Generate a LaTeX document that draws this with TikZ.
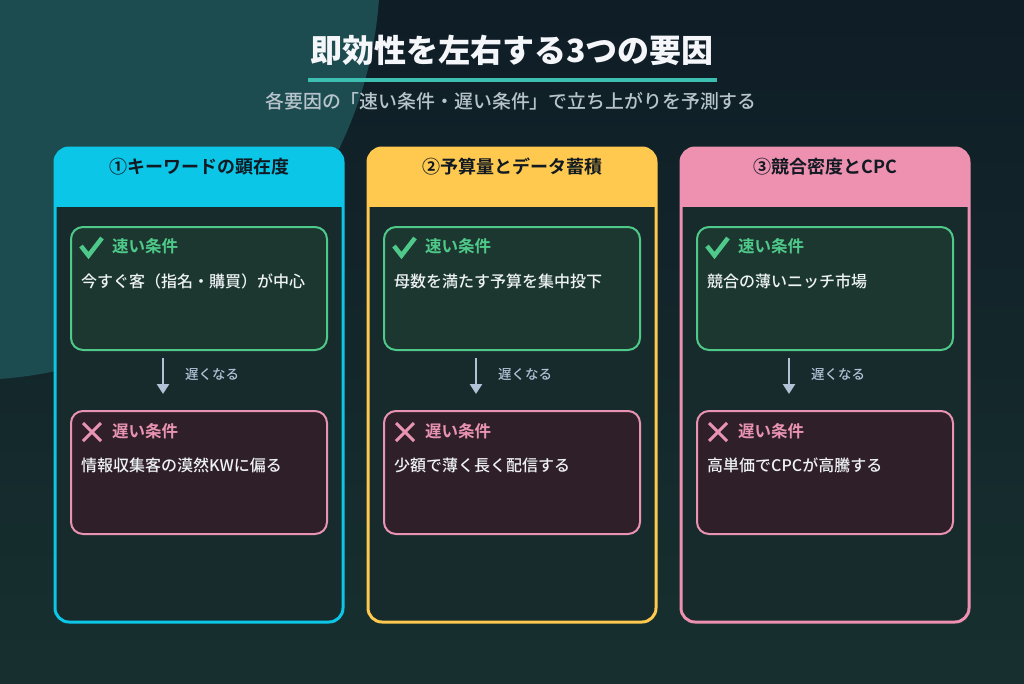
\documentclass[tikz,border=0pt]{standalone}
\usepackage{fontspec}
\setmainfont{Noto Sans CJK JP}[BoldFont={Noto Sans CJK JP Bold}]
\newfontfamily\medfont{Noto Sans CJK JP Medium}
\newfontfamily\blackfont{Noto Sans CJK JP Black}
\usetikzlibrary{arrows.meta}
\definecolor{bgtop}{HTML}{0F1D26}
\definecolor{bgbot}{HTML}{17302F}
\definecolor{blob}{HTML}{1D4C50}
\definecolor{titlec}{HTML}{F4F6FA}
\definecolor{ulc}{HTML}{3CBFB0}
\definecolor{subc}{HTML}{B8C4CC}
\definecolor{cA}{HTML}{0CC6E8}
\definecolor{cB}{HTML}{FFC84E}
\definecolor{cC}{HTML}{EE91B0}
\definecolor{colbody}{HTML}{172A2C}
\definecolor{headtext}{HTML}{111A22}
\definecolor{fastline}{HTML}{4FC98A}
\definecolor{fastfill}{HTML}{1B372F}
\definecolor{slowline}{HTML}{E893B2}
\definecolor{slowfill}{HTML}{2F1F28}
\definecolor{bodytext}{HTML}{EEF2F5}
\definecolor{arrowc}{HTML}{B2C2D6}
\begin{document}
\begin{tikzpicture}[x=1pt,y=-1pt,
  colbox/.style={rectangle, rounded corners=14pt, line width=3pt, fill=colbody,
    minimum width=288pt, minimum height=474pt, anchor=north west, inner sep=0pt, outer sep=0pt},
  headtxt/.style={font=\bfseries\fontsize{18}{22}\selectfont, text=headtext},
  fastbox/.style={rectangle, rounded corners=12pt, line width=2pt, draw=fastline, fill=fastfill,
    minimum width=256pt, minimum height=123pt, anchor=north west, inner sep=0pt, outer sep=0pt},
  slowbox/.style={fastbox, draw=slowline, fill=slowfill},
  fasthead/.style={font=\bfseries\fontsize{16.5}{20}\selectfont, text=fastline, anchor=west, inner sep=0pt},
  slowhead/.style={fasthead, text=slowline},
  bodytxt/.style={font=\medfont\fontsize{16}{19}\selectfont, text=bodytext, anchor=west, inner sep=0pt},
  downarrow/.style={line width=2.5pt, draw=arrowc, -{Triangle[width=12pt,length=10pt]}},
  arrowlabel/.style={font=\medfont\fontsize{13.5}{16}\selectfont, text=arrowc, anchor=west, inner sep=0pt}
]
\useasboundingbox (0,0) rectangle (1024,683);
\shade[top color=bgtop, bottom color=bgbot] (0,0) rectangle (1024,683);
\begin{scope}
  \clip (0,0) rectangle (1024,683);
  \fill[blob] (-30,-30) circle[radius=410];
\end{scope}

\node[font=\blackfont\fontsize{32}{38}\selectfont, text=titlec] (title) at (512,50) {即効性を左右する3つの要因};
\draw[line width=4pt, ulc] (308,80) -- (717,80);
\node[font=\medfont\fontsize{18.9}{22}\selectfont, text=subc] (subtitle) at (511,101) {各要因の「速い条件・遅い条件」で立ち上がりを予測する};

\foreach \i/\x/\c/\h/\f/\s in {
  1/55/cA/{①キーワードの顕在度}/{今すぐ客（指名・購買）が中心}/{情報収集客の漠然KWに偏る},
  2/368/cB/{②予算量とデータ蓄積}/{母数を満たす予算を集中投下}/{少額で薄く長く配信する},
  3/681/cC/{③競合密度とCPC}/{競合の薄いニッチ市場}/{高単価でCPCが高騰する}}{
  \node[colbox, draw=\c, path picture={\fill[\c, sharp corners] (path picture bounding box.north west) rectangle ([yshift=-59pt]path picture bounding box.north east);}] (col\i) at (\x,148) {};
  \node[headtxt] (head\i) at ([yshift=-19pt]col\i.north) {\h};
  % fast box
  \node[fastbox] (fast\i) at (\x+16,227) {};
  \draw[fastline, line width=4.5pt, line join=miter] (\x+26,246) -- (\x+33.5,255.5) -- (\x+47,238);
  \node[fasthead] (fh\i) at (\x+57,246) {速い条件};
  \node[bodytxt] (ft\i) at (\x+26,281) {\f};
  % slow box
  \node[slowbox] (slow\i) at (\x+16,411) {};
  \draw[slowline, line width=3pt] (\x+28,423) -- (\x+46,441) (\x+46,423) -- (\x+28,441);
  \node[slowhead] (sh\i) at (\x+57,431) {遅い条件};
  \node[bodytxt] (st\i) at (\x+26,465) {\s};
  % arrow
  \draw[downarrow] ([xshift=-36pt,yshift=-8pt]fast\i.south) -- ([xshift=-36pt,yshift=17pt]slow\i.north);
  \node[arrowlabel] (al\i) at (\x+130,374) {遅くなる};
}
\end{tikzpicture}
\end{document}
